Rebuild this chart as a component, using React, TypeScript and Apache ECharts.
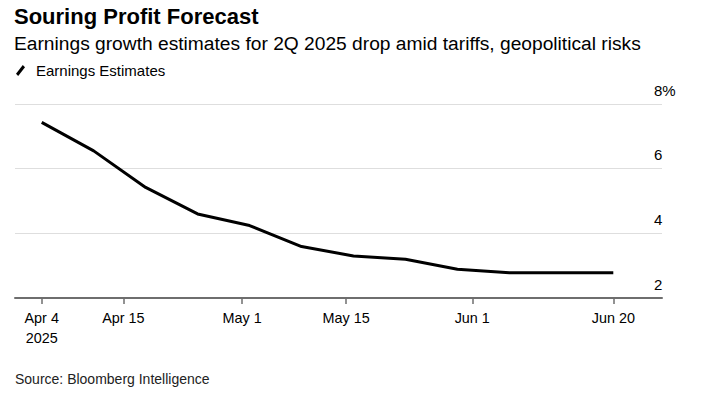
import React, { useEffect, useRef } from "react";
import * as echarts from "echarts";

const TITLE = "Souring Profit Forecast";
const SUBTITLE = "Earnings growth estimates for 2Q 2025 drop amid tariffs, geopolitical risks";
const SOURCE = "Source: Bloomberg Intelligence";
const SERIES_NAME = "Earnings Estimates";

// [month (0-based), day] in 2025
const dates: [number, number][] = [
  [3, 4], [3, 11], [3, 18], [3, 25], [4, 2], [4, 9],
  [4, 16], [4, 23], [4, 30], [5, 6], [5, 13], [5, 20],
];
const values = [7.43, 6.55, 5.42, 4.6, 4.24, 3.59, 3.3, 3.2, 2.89, 2.78, 2.78, 2.78];

const tickDates: [number, number][] = [
  [3, 4], [3, 15], [4, 1], [4, 15], [5, 1], [5, 20],
];
const yTicks = [2, 4, 6, 8];
const MONTHS = ["Jan", "Feb", "Mar", "Apr", "May", "Jun", "Jul", "Aug", "Sep", "Oct", "Nov", "Dec"];

const DAY = 86400000;
const BASE = Date.UTC(2025, 3, 4);
// days since Apr 4, 2025
const dayIdx = (m: number, d: number) => Math.round((Date.UTC(2025, m, d) - BASE) / DAY);

export default function App() {
  const ref = useRef<HTMLDivElement>(null);
  useEffect(() => {
    if (!ref.current) return;
    const chart = echarts.init(ref.current, undefined, { renderer: "svg" });
    const font = "'Liberation Sans', Arial, sans-serif";
    const data = dates.map((d, i) => [dayIdx(d[0], d[1]), values[i]]);
    const ticks = tickDates.map((d) => dayIdx(d[0], d[1]));
    const first = ticks[0];
    const last = dayIdx(5, 20);
    chart.setOption({
      animation: false,
      textStyle: { fontFamily: font },
      title: [
        {
          text: TITLE, left: 14, top: 5, padding: 0,
          textStyle: { fontSize: 22, fontWeight: "bold", color: "#000", fontFamily: font },
        },
        {
          text: SUBTITLE, left: 14, top: 34, padding: 0,
          textStyle: { fontSize: 19.2, fontWeight: "normal", color: "#000", fontFamily: font },
        },
        {
          text: SOURCE, left: 15, top: 372, padding: 0,
          textStyle: { fontSize: 14, fontWeight: "normal", color: "#222", fontFamily: font },
        },
      ],
      legend: {
        left: 16, top: 63, padding: 0,
        itemWidth: 9, itemHeight: 11,
        icon: "path://M0,8.8 L6.8,0 L9,2.2 L2.2,11 Z",
        textStyle: { fontSize: 15, color: "#000", fontFamily: font, padding: [0, 0, 0, 6] },
        data: [{ name: SERIES_NAME, itemStyle: { color: "#000" } }],
        selectedMode: false,
      },
      grid: { left: 15, right: 63, top: 104, bottom: 96, containLabel: false },
      xAxis: {
        type: "value",
        min: first - 3.6,
        max: last + 6.56,
        axisLine: { show: true, lineStyle: { color: "#6e6e6e", width: 2 } },
        axisTick: { show: true, length: 6, customValues: ticks, lineStyle: { color: "#6e6e6e", width: 1.5 } },
        splitLine: { show: false },
        axisLabel: {
          customValues: ticks,
          margin: 10,
          fontSize: 14.4,
          lineHeight: 20,
          color: "#000",
          fontFamily: font,
          hideOverlap: false,
          showMinLabel: true,
          showMaxLabel: true,
          formatter: (v: number) => {
            const d = new Date(BASE + Math.round(v) * DAY);
            const s = MONTHS[d.getUTCMonth()] + " " + d.getUTCDate();
            return Math.round(v) === first ? s + "\n2025" : s;
          },
        },
      },
      yAxis: {
        type: "value",
        position: "right",
        min: yTicks[0],
        max: yTicks[yTicks.length - 1],
        interval: 2,
        axisLine: { show: false },
        axisTick: { show: false },
        splitLine: { show: true, lineStyle: { color: "#dedede", width: 1 } },
        axisLabel: {
          align: "left",
          verticalAlign: "bottom",
          lineHeight: 28,
          margin: -8,
          fontSize: 15,
          color: "#000",
          fontFamily: font,
          formatter: (v: number) => (v === yTicks[yTicks.length - 1] ? v + "%" : String(v)),
        },
      },
      series: [
        {
          name: SERIES_NAME,
          type: "line",
          data,
          showSymbol: false,
          symbol: "none",
          lineStyle: { color: "#000", width: 3 },
          itemStyle: { color: "#000" },
          z: 5,
        },
      ],
    });
    return () => chart.dispose();
  }, []);
  return (
    <div
      ref={ref}
      style={{ position: "fixed", left: 0, top: 0, width: 725, height: 394, background: "#fff" }}
    />
  );
}
